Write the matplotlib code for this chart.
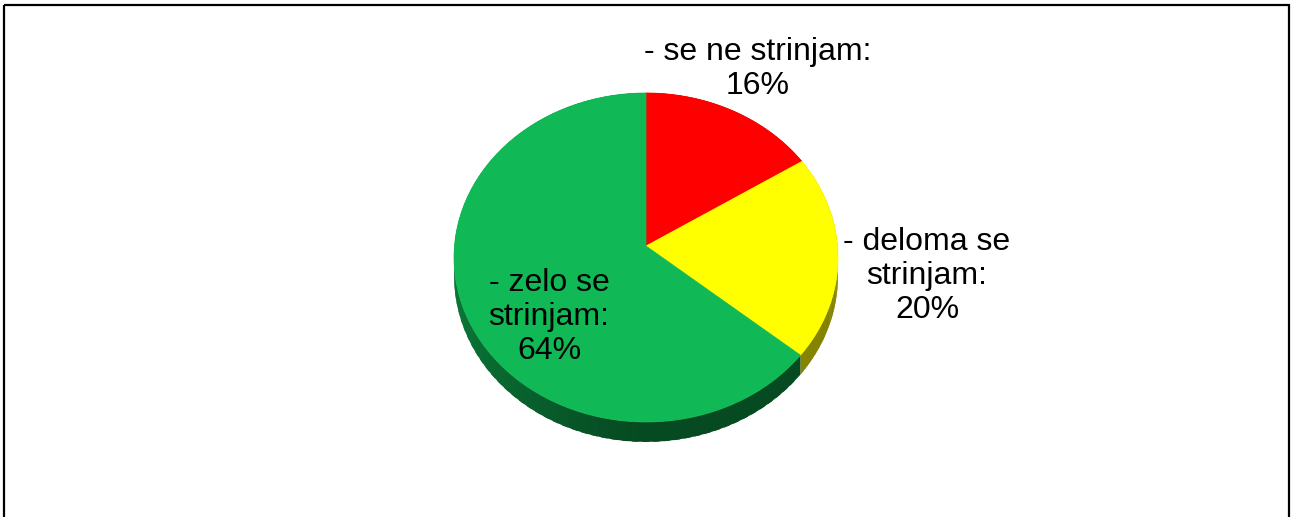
import numpy as np
import matplotlib.pyplot as plt
from matplotlib.patches import Polygon, Rectangle

plt.rcParams['font.family'] = ['Liberation Sans', 'DejaVu Sans']

# data (clockwise from 12 o'clock)
labels = ['- se ne strinjam:', '- deloma se\nstrinjam:', '- zelo se\nstrinjam:']
values = [16, 20, 64]
colors = ['#FF0000', '#FFFF00', '#10B956']
label_pos = [(758, 69), (927, 276), (549, 317)]

W, H = 1291, 517
fig = plt.figure(figsize=(W / 100, H / 100), dpi=100)
ax = fig.add_axes([0, 0, 1, 1])
ax.set_xlim(0, W)
ax.set_ylim(H, 0)
ax.axis('off')

# simple perspective pie geometry (pixels)
cx, cy = 646, 246
A, B, k = 191.5, 163.7, 0.0698
t0 = 18.6


def proj(theta):
    X, Z = np.sin(theta), np.cos(theta)
    s = 1.0 / (1 + k * Z)
    return cx + A * X * s, cy - B * Z * s, t0 * s


def shade(hexcol, f):
    c = np.array([int(hexcol[i:i + 2], 16) for i in (1, 3, 5)]) / 255.0
    return tuple(np.clip(c * f, 0, 1))


bounds = np.concatenate([[0], np.cumsum(values)]) / sum(values) * 2 * np.pi

# side walls (drawn first, tops cover the hidden part)
for i in range(len(values)):
    th = np.linspace(bounds[i], bounds[i + 1], 80)
    step = th[1] - th[0]
    for a0 in th[:-1]:
        a1 = min(a0 + step * 1.6, bounds[i + 1])
        x0, y0, d0 = proj(a0)
        x1, y1, d1 = proj(a1)
        mid = a0 + step / 2
        f = 0.40 + 0.24 * max(0.0, -np.sin(mid)) ** 1.3
        if i == 1:
            f = 0.56 - 0.05 * np.sin(mid)
        col = shade(colors[i], f)
        ax.add_patch(Polygon([(x0, y0), (x1, y1), (x1, y1 + d1), (x0, y0 + d0)],
                             closed=True, facecolor=col, edgecolor='none', lw=0))

# top faces
for i in range(len(values)):
    th = np.linspace(bounds[i], bounds[i + 1], 300)
    xs, ys, _ = proj(th)
    pts = [(cx, cy)] + list(zip(xs, ys))
    ax.add_patch(Polygon(pts, closed=True, facecolor=colors[i],
                         edgecolor=colors[i], lw=0.5))

for lab, v, (lx, ly) in zip(labels, values, label_pos):
    ax.text(lx, ly, f"{lab}\n{v}%", ha='center', va='center', fontsize=23,
            color='black', linespacing=1.17)

# chart frame
ax.add_patch(Rectangle((3.5, 4.5), 1285, 540, fill=False, edgecolor='black', lw=1.6))

fig.savefig('out.png', dpi=100)
